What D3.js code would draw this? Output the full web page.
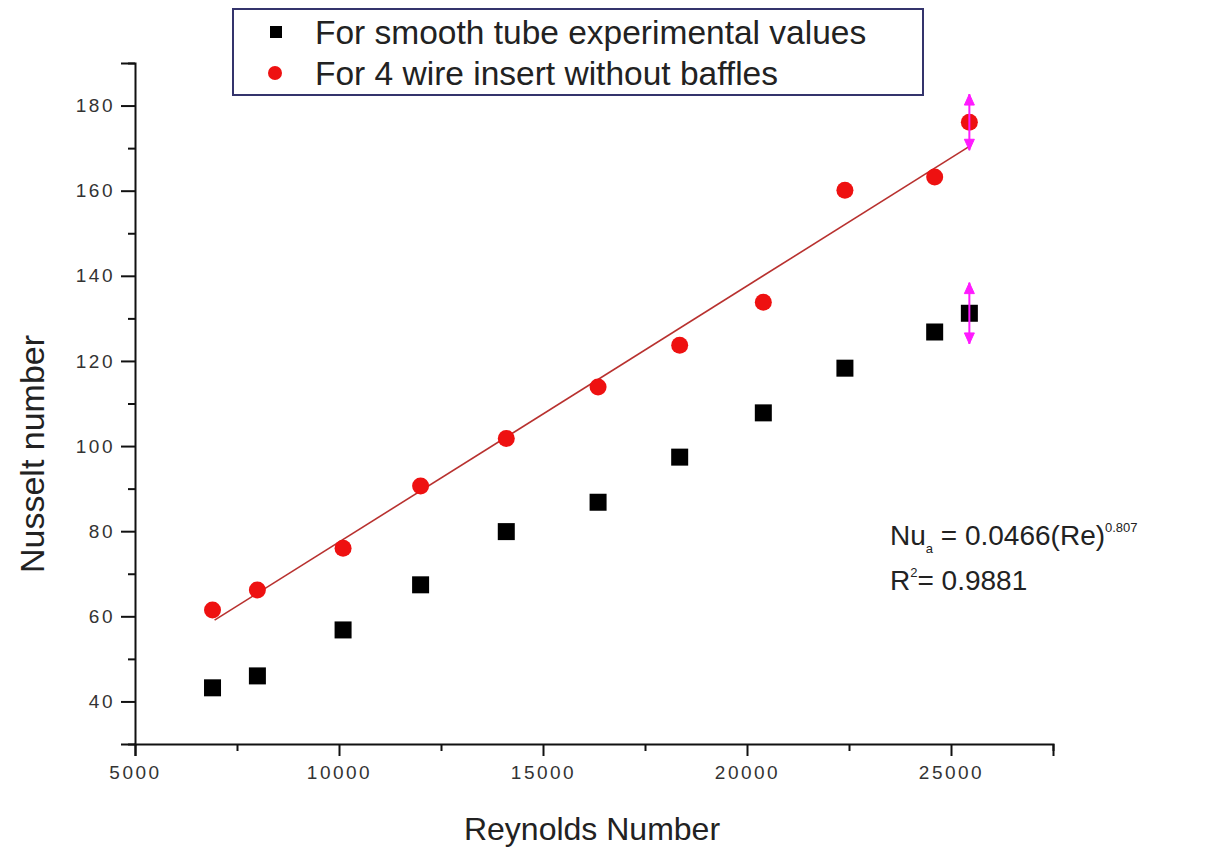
<!DOCTYPE html>
<html>
<head>
<meta charset="utf-8">
<script src="https://cdn.jsdelivr.net/npm/d3@7"></script>
<style>
  body { margin: 0; background: #fff; }
  svg { font-family: "Liberation Sans", Arial, sans-serif; }
</style>
</head>
<body>
<div id="viz"></div>
<script>
const width = 1207;
const height = 847;
const margin = {top: 63, right: 154, bottom: 103, left: 135};

// Data
const reynolds = [6900, 8000, 10100, 12000, 14100, 16350, 18350, 20400, 22400, 24600, 25450];
const nuSmooth = [43.2, 46.0, 56.8, 67.4, 79.9, 86.8, 97.4, 107.8, 118.3, 126.8, 131.2];
const nuWire = [61.5, 66.2, 76.0, 90.6, 101.8, 113.9, 123.7, 133.8, 160.1, 163.2, 176.1];
// error bars on the last point only
const errSmooth = [null, null, null, null, null, null, null, null, null, null, 7.2];
const errWire = [null, null, null, null, null, null, null, null, null, null, 6.6];
// fitted line end points
const fitRe = [6950, 25450];
const fitNu = [59.1, 170.4];

const xMajor = [5000, 10000, 15000, 20000, 25000];
const xMinor = [7500, 12500, 17500, 22500, 27500];
const yMajor = [40, 60, 80, 100, 120, 140, 160, 180];
const yMinor = [30, 50, 70, 90, 110, 130, 150, 170, 190];

const legendLabels = ['For smooth tube experimental values', 'For 4 wire insert without baffles'];

const svg = d3.select('#viz')
  .append('svg')
    .attr('width', width)
    .attr('height', height);

const xScale = d3.scaleLinear()
  .domain([5000, 27500])
  .range([margin.left, width - margin.right]);
const yScale = d3.scaleLinear()
  .domain([30, 190])
  .range([height - margin.bottom, margin.top]);

// Axes: major ticks with labels, minor ticks without
const tickFont = g => g.selectAll('text')
  .attr('fill', '#333')
  .style('font-size', '19px')
  .style('letter-spacing', '2.5px');

svg.append('g')
  .attr('transform', `translate(0, ${yScale(30)})`)
  .call(d3.axisBottom(xScale).tickValues(xMajor).tickSize(12).tickPadding(10).tickFormat(d3.format('d')))
  .call(tickFont);
svg.append('g')
  .attr('transform', `translate(0, ${yScale(30)})`)
  .call(d3.axisBottom(xScale).tickValues(xMinor).tickSize(7).tickFormat(''))
  .call(g => g.select('.domain').remove());

svg.append('g')
  .attr('transform', `translate(${xScale(5000)}, 0)`)
  .call(d3.axisLeft(yScale).tickValues(yMajor).tickSize(14).tickPadding(6))
  .call(tickFont);
svg.append('g')
  .attr('transform', `translate(${xScale(5000)}, 0)`)
  .call(d3.axisLeft(yScale).tickValues(yMinor).tickSize(7).tickFormat(''))
  .call(g => g.select('.domain').remove());

svg.selectAll('.domain').attr('stroke', '#111').attr('stroke-width', 2);
svg.selectAll('.tick line').attr('stroke', '#111').attr('stroke-width', 2);

// Axis titles
svg.append('text')
  .attr('x', 592)
  .attr('y', 840)
  .attr('text-anchor', 'middle')
  .attr('fill', '#222')
  .style('font-size', '32px')
  .text('Reynolds Number');
svg.append('text')
  .attr('transform', 'translate(44, 454) rotate(-90)')
  .attr('text-anchor', 'middle')
  .attr('fill', '#222')
  .style('font-size', '34px')
  .text('Nusselt number');

// Fit line
const line = d3.line()
  .x(d => xScale(d[0]))
  .y(d => yScale(d[1]));
svg.append('path')
  .attr('d', line(d3.zip(fitRe, fitNu)))
  .attr('fill', 'none')
  .attr('stroke', '#b8312f')
  .attr('stroke-width', 1.6);

// Error bars with arrow heads
const magenta = '#ff1aff';
const drawErr = (vals, errs) => {
  const rows = reynolds.map((r, i) => ({r, v: vals[i], e: errs[i]})).filter(d => d.e != null);
  const g = svg.append('g').attr('fill', magenta).attr('stroke', magenta);
  rows.forEach(d => {
    const x = xScale(d.r);
    const yTop = yScale(d.v + d.e);
    const yBot = yScale(d.v - d.e);
    g.append('line')
      .attr('x1', x).attr('x2', x)
      .attr('y1', yTop).attr('y2', yBot)
      .attr('stroke-width', 2);
    g.append('path')
      .attr('d', `M${x},${yTop} l-5,11 l10,0 z`)
      .attr('stroke-width', 1);
    g.append('path')
      .attr('d', `M${x},${yBot} l-5,-11 l10,0 z`)
      .attr('stroke-width', 1);
  });
};

// Points
const sq = 17;
svg.append('g')
  .selectAll('rect')
  .data(reynolds)
  .join('rect')
    .attr('x', d => xScale(d) - sq / 2)
    .attr('y', (d, i) => yScale(nuSmooth[i]) - sq / 2)
    .attr('width', sq)
    .attr('height', sq)
    .attr('fill', '#000');
svg.append('g')
  .selectAll('circle')
  .data(reynolds)
  .join('circle')
    .attr('cx', d => xScale(d))
    .attr('cy', (d, i) => yScale(nuWire[i]))
    .attr('r', 8.5)
    .attr('fill', '#ee1111');

drawErr(nuSmooth, errSmooth);
drawErr(nuWire, errWire);

// Legend
const legend = svg.append('g');
legend.append('rect')
  .attr('x', 233)
  .attr('y', 9)
  .attr('width', 690)
  .attr('height', 86)
  .attr('fill', '#fff')
  .attr('stroke', '#34346c')
  .attr('stroke-width', 2);
legend.append('rect')
  .attr('x', 270).attr('y', 26)
  .attr('width', 12).attr('height', 12)
  .attr('fill', '#000');
legend.append('circle')
  .attr('cx', 275).attr('cy', 73)
  .attr('r', 7)
  .attr('fill', '#ee1111');
legend.selectAll('text.lab')
  .data(legendLabels)
  .join('text')
    .attr('class', 'lab')
    .attr('x', 315)
    .attr('y', (d, i) => 44 + i * 41)
    .attr('fill', '#222')
    .style('font-size', '33.5px')
    .text(d => d);

// Fit annotation
const ann = svg.append('g').attr('fill', '#222').style('font-size', '28px');
const t1 = ann.append('text').attr('x', 890).attr('y', 545);
t1.append('tspan').text('Nu');
t1.append('tspan').attr('dy', 8).style('font-size', '13px').text('a');
t1.append('tspan').attr('dy', -8).text(' = 0.0466(Re)');
t1.append('tspan').attr('dy', -13).style('font-size', '13px').text('0.807');
const t2 = ann.append('text').attr('x', 890).attr('y', 590);
t2.append('tspan').text('R');
t2.append('tspan').attr('dy', -13).style('font-size', '13px').text('2');
t2.append('tspan').attr('dy', 13).text('= 0.9881');
</script>
</body>
</html>
